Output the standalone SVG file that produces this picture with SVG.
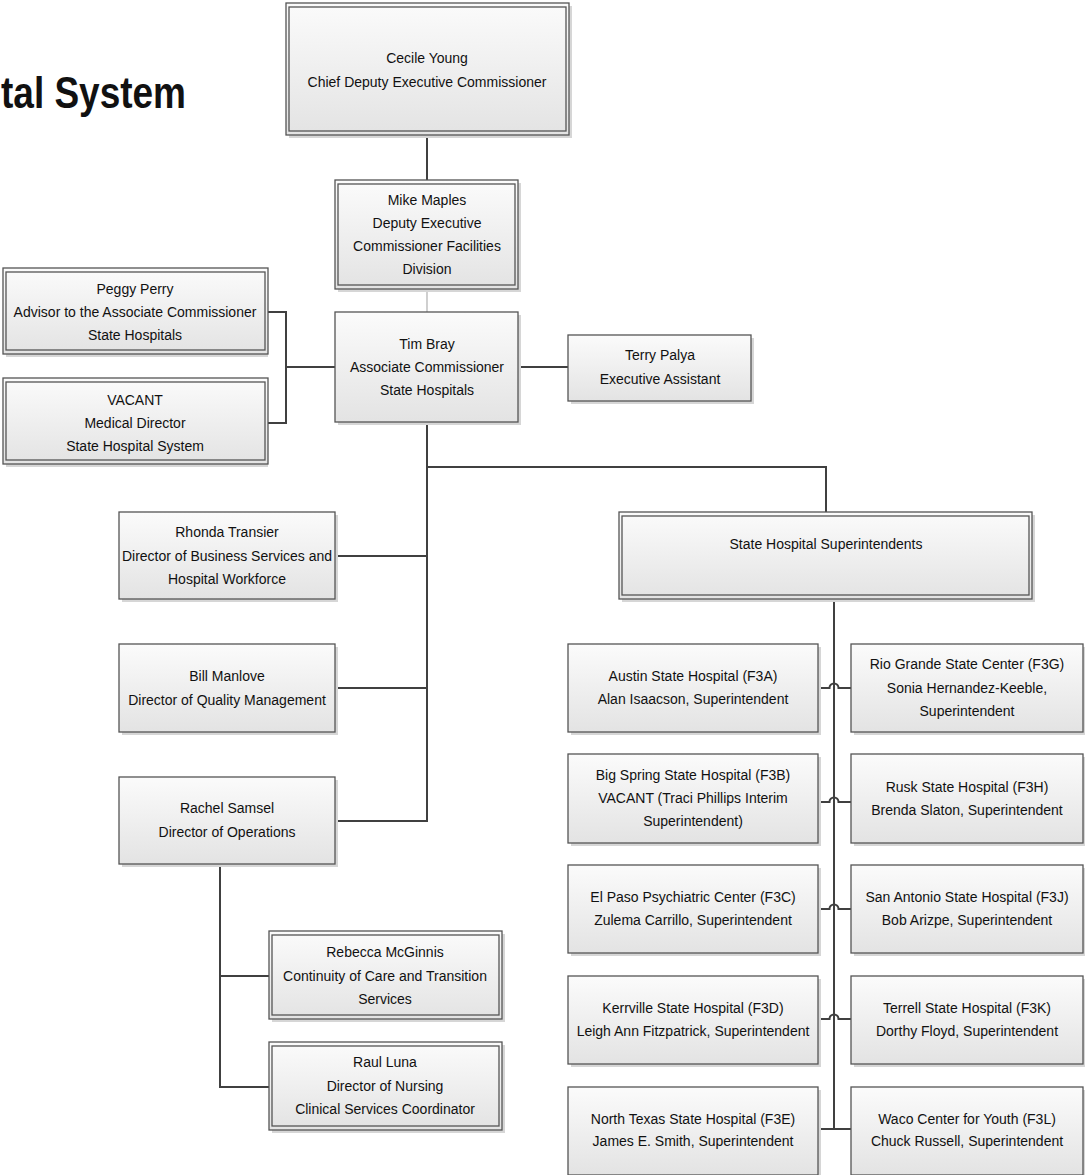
<svg xmlns="http://www.w3.org/2000/svg" width="1085" height="1175" viewBox="0 0 1085 1175">
<defs>
<linearGradient id="g" x1="0" y1="0" x2="0" y2="1">
<stop offset="0" stop-color="#fbfbfb"/>
<stop offset="1" stop-color="#e3e3e3"/>
</linearGradient>
<style>
.sh{fill:#d6d6d6}
.bx{fill:url(#g);stroke:#555;stroke-width:1.3}
.in{fill:none;stroke:#555;stroke-width:1.3}
.t{font-family:"Liberation Sans",Arial,sans-serif;font-size:14px;fill:#111;text-anchor:middle}
.c{fill:none;stroke:#404040;stroke-width:2}
.ct{fill:none;stroke:#b0b0b0;stroke-width:1.2}
.title{font-family:"Liberation Sans",Arial,sans-serif;font-weight:bold;font-size:44px;fill:#111}
</style>
</defs>
<rect width="1085" height="1175" fill="#fff"/>
<text class="title" x="1" y="108" textLength="185" lengthAdjust="spacingAndGlyphs">tal System</text>

<g id="connectors">
<path class="c" d="M427,135 V180"/>
<path class="ct" d="M427,289 V312"/>
<path class="c" d="M268,312 H286 V423 H268 M286,367 H335"/>
<path class="c" d="M518,367 H568"/>
<path class="c" d="M427,422 V821 H335 M335,556 H427 M335,688 H427"/>
<path class="c" d="M427,467 H826 V512"/>
<path class="c" d="M826,599 H834 V1129"/>
<path class="c" d="M220,864 V1087 H269 M220,976 H269"/>
<path class="c" d="M818,688 H829.5 A4.5,4.5 0 0 1 838.5,688 H851"/>
<path class="c" d="M818,802 H829.5 A4.5,4.5 0 0 1 838.5,802 H851"/>
<path class="c" d="M818,909 H829.5 A4.5,4.5 0 0 1 838.5,909 H851"/>
<path class="c" d="M818,1019 H829.5 A4.5,4.5 0 0 1 838.5,1019 H851"/>
<path class="c" d="M818,1129 H851"/>
</g>

<g id="cecile">
<rect class="sh" x="289" y="6" width="283" height="132"/>
<rect class="bx" x="286" y="3" width="283" height="132"/>
<rect class="in" x="289" y="7" width="277" height="124"/>
<text class="t" x="427" y="63">Cecile Young</text>
<text class="t" x="427" y="87">Chief Deputy Executive Commissioner</text>
</g>

<g id="mike">
<rect class="sh" x="338" y="183" width="183" height="109"/>
<rect class="bx" x="335" y="180" width="183" height="109"/>
<rect class="in" x="338" y="184" width="177" height="101"/>
<text class="t" x="427" y="205">Mike Maples</text>
<text class="t" x="427" y="228">Deputy Executive</text>
<text class="t" x="427" y="251">Commissioner Facilities</text>
<text class="t" x="427" y="274">Division</text>
</g>

<g id="tim">
<rect class="sh" x="338" y="315" width="183" height="110"/>
<rect class="bx" x="335" y="312" width="183" height="110"/>
<text class="t" x="427" y="349">Tim Bray</text>
<text class="t" x="427" y="372">Associate Commissioner</text>
<text class="t" x="427" y="395">State Hospitals</text>
</g>

<g id="peggy">
<rect class="sh" x="6" y="271" width="262" height="86"/>
<rect class="bx" x="3" y="268" width="265" height="86"/>
<rect class="in" x="6" y="272" width="259" height="78"/>
<text class="t" x="135" y="294">Peggy Perry</text>
<text class="t" x="135" y="317">Advisor to the Associate Commissioner</text>
<text class="t" x="135" y="340">State Hospitals</text>
</g>

<g id="vacant-medical">
<rect class="sh" x="6" y="381" width="262" height="86"/>
<rect class="bx" x="3" y="378" width="265" height="86"/>
<rect class="in" x="6" y="382" width="259" height="78"/>
<text class="t" x="135" y="405">VACANT</text>
<text class="t" x="135" y="428">Medical Director</text>
<text class="t" x="135" y="451">State Hospital System</text>
</g>

<g id="terry">
<rect class="sh" x="571" y="338" width="183" height="66"/>
<rect class="bx" x="568" y="335" width="183" height="66"/>
<text class="t" x="660" y="360">Terry Palya</text>
<text class="t" x="660" y="384">Executive Assistant</text>
</g>

<g id="superintendents">
<rect class="sh" x="622" y="515" width="413" height="87"/>
<rect class="bx" x="619" y="512" width="413" height="87"/>
<rect class="in" x="622" y="516" width="407" height="79"/>
<text class="t" x="826" y="549">State Hospital Superintendents</text>
</g>

<g id="rhonda">
<rect class="sh" x="122" y="515" width="216" height="87"/>
<rect class="bx" x="119" y="512" width="216" height="87"/>
<text class="t" x="227" y="537">Rhonda Transier</text>
<text class="t" x="227" y="561">Director of Business Services and</text>
<text class="t" x="227" y="584">Hospital Workforce</text>
</g>

<g id="bill">
<rect class="sh" x="122" y="647" width="216" height="88"/>
<rect class="bx" x="119" y="644" width="216" height="88"/>
<text class="t" x="227" y="681">Bill Manlove</text>
<text class="t" x="227" y="705">Director of Quality Management</text>
</g>

<g id="rachel">
<rect class="sh" x="122" y="780" width="216" height="87"/>
<rect class="bx" x="119" y="777" width="216" height="87"/>
<text class="t" x="227" y="813">Rachel Samsel</text>
<text class="t" x="227" y="837">Director of Operations</text>
</g>

<g id="rebecca">
<rect class="sh" x="272" y="934" width="233" height="88"/>
<rect class="bx" x="269" y="931" width="233" height="88"/>
<rect class="in" x="272" y="935" width="227" height="80"/>
<text class="t" x="385" y="957">Rebecca McGinnis</text>
<text class="t" x="385" y="981">Continuity of Care and Transition</text>
<text class="t" x="385" y="1004">Services</text>
</g>

<g id="raul">
<rect class="sh" x="272" y="1045" width="233" height="88"/>
<rect class="bx" x="269" y="1042" width="233" height="88"/>
<rect class="in" x="272" y="1046" width="227" height="80"/>
<text class="t" x="385" y="1067">Raul Luna</text>
<text class="t" x="385" y="1091">Director of Nursing</text>
<text class="t" x="385" y="1114">Clinical Services Coordinator</text>
</g>

<g id="austin">
<rect class="sh" x="571" y="647" width="250" height="88"/>
<rect class="bx" x="568" y="644" width="250" height="88"/>
<text class="t" x="693" y="681">Austin State Hospital (F3A)</text>
<text class="t" x="693" y="704">Alan Isaacson, Superintendent</text>
</g>

<g id="riogrande">
<rect class="sh" x="854" y="647" width="232" height="88"/>
<rect class="bx" x="851" y="644" width="232" height="88"/>
<text class="t" x="967" y="669">Rio Grande State Center (F3G)</text>
<text class="t" x="967" y="693">Sonia Hernandez-Keeble,</text>
<text class="t" x="967" y="716">Superintendent</text>
</g>

<g id="bigspring">
<rect class="sh" x="571" y="757" width="250" height="89"/>
<rect class="bx" x="568" y="754" width="250" height="89"/>
<text class="t" x="693" y="780">Big Spring State Hospital (F3B)</text>
<text class="t" x="693" y="803">VACANT (Traci Phillips Interim</text>
<text class="t" x="693" y="826">Superintendent)</text>
</g>

<g id="rusk">
<rect class="sh" x="854" y="757" width="232" height="89"/>
<rect class="bx" x="851" y="754" width="232" height="89"/>
<text class="t" x="967" y="792">Rusk State Hospital (F3H)</text>
<text class="t" x="967" y="815">Brenda Slaton, Superintendent</text>
</g>

<g id="elpaso">
<rect class="sh" x="571" y="868" width="250" height="88"/>
<rect class="bx" x="568" y="865" width="250" height="88"/>
<text class="t" x="693" y="902">El Paso Psychiatric Center (F3C)</text>
<text class="t" x="693" y="925">Zulema Carrillo, Superintendent</text>
</g>

<g id="sanantonio">
<rect class="sh" x="854" y="868" width="232" height="88"/>
<rect class="bx" x="851" y="865" width="232" height="88"/>
<text class="t" x="967" y="902">San Antonio State Hospital (F3J)</text>
<text class="t" x="967" y="925">Bob Arizpe, Superintendent</text>
</g>

<g id="kerrville">
<rect class="sh" x="571" y="979" width="250" height="88"/>
<rect class="bx" x="568" y="976" width="250" height="88"/>
<text class="t" x="693" y="1013">Kerrville State Hospital (F3D)</text>
<text class="t" x="693" y="1036">Leigh Ann Fitzpatrick, Superintendent</text>
</g>

<g id="terrell">
<rect class="sh" x="854" y="979" width="232" height="88"/>
<rect class="bx" x="851" y="976" width="232" height="88"/>
<text class="t" x="967" y="1013">Terrell State Hospital (F3K)</text>
<text class="t" x="967" y="1036">Dorthy Floyd, Superintendent</text>
</g>

<g id="northtexas">
<rect class="sh" x="571" y="1090" width="250" height="88"/>
<rect class="bx" x="568" y="1087" width="250" height="88"/>
<text class="t" x="693" y="1124">North Texas State Hospital (F3E)</text>
<text class="t" x="693" y="1146">James E. Smith, Superintendent</text>
</g>

<g id="waco">
<rect class="sh" x="854" y="1090" width="232" height="88"/>
<rect class="bx" x="851" y="1087" width="232" height="88"/>
<text class="t" x="967" y="1124">Waco Center for Youth (F3L)</text>
<text class="t" x="967" y="1146">Chuck Russell, Superintendent</text>
</g>
</svg>
